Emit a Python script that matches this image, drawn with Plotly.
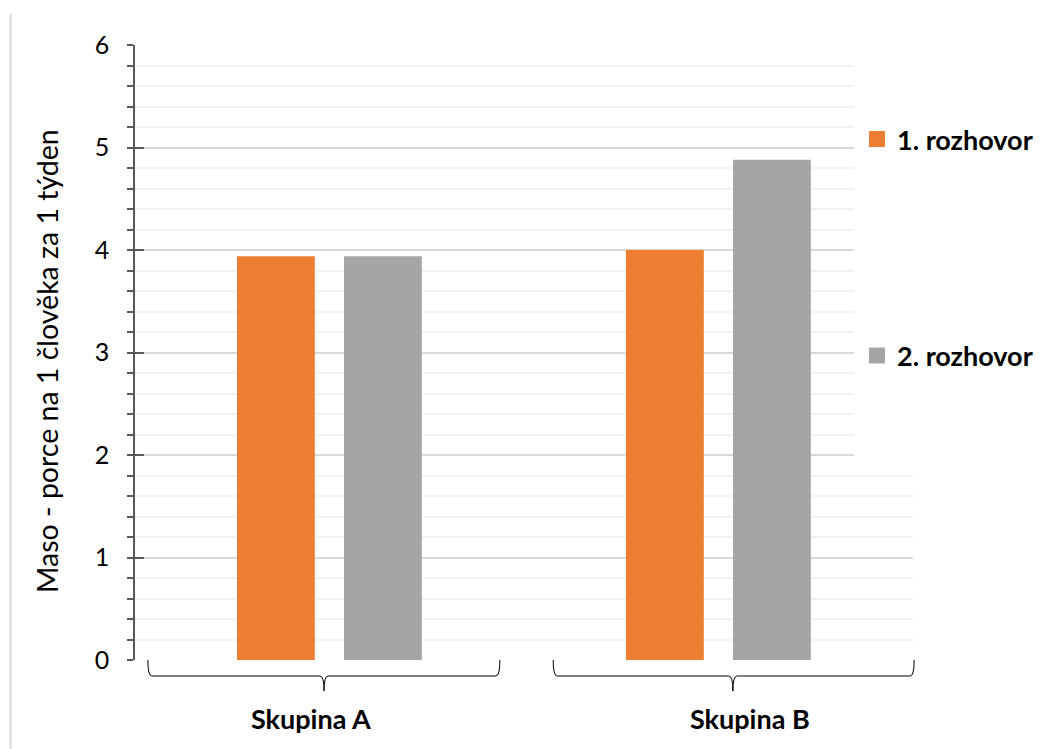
import plotly.graph_objects as go

# Data
groups = ["Skupina A", "Skupina B"]
series_names = ["1. rozhovor", "2. rozhovor"]
interview1 = [3.94, 4.00]
interview2 = [3.94, 4.88]
y_ticks = [0, 1, 2, 3, 4, 5, 6]

ORANGE = "#ED7D31"
GRAY = "#A5A5A5"
FONT = "Lato"
TEXT = "#000000"

W, H = 1043, 749
ML, MR, MT, MB = 135, 130, 45, 89
PW = W - ML - MR
PH = H - MT - MB

fig = go.Figure()

bar_w = 0.2
offsets = [-0.2378, 0.0373]
for vals, color, off in zip([interview1, interview2], [ORANGE, GRAY], offsets):
    fig.add_trace(go.Bar(
        x=groups, y=vals, width=bar_w, offset=off,
        marker=dict(color=color, line=dict(width=0)),
        showlegend=False, hoverinfo="x+y",
    ))

# legend entries (square swatches), each in its own legend box
for i, (name, color) in enumerate(zip(series_names, [ORANGE, GRAY])):
    fig.add_trace(go.Scatter(
        x=[None], y=[None], mode="markers", name=name,
        marker=dict(symbol="square", size=16, color=color),
        yaxis="y2", legend="legend" if i == 0 else "legend2",
    ))

def px_to_paper_x(px):
    return (px - ML) / PW

def px_to_paper_y(py):
    return (H - MB - py) / PH

x_min, x_max = -0.5, 1.5

def cat_to_paper(v):
    return (v - x_min) / (x_max - x_min)

def px_to_cat(px):
    return x_min + (px - ML) / PW * (x_max - x_min)

# category brackets under the axis (start, end, notch) in category units
brackets = [(-0.467, 0.438, -0.014), (-0.425, 0.503, 0.037)]
y0 = 0.0
y1 = px_to_paper_y(H - MB + 16)
y2 = px_to_paper_y(H - MB + 31)
d = 4 / PW
shapes = []
for i, (a, b, c) in enumerate(brackets):
    xl, xr, xc = cat_to_paper(i + a), cat_to_paper(i + b), cat_to_paper(i + c)
    path = (f"M{xl},{y0} Q{xl},{y1} {xl + d},{y1} L{xc - d},{y1} "
            f"Q{xc},{y1} {xc},{y2} Q{xc},{y1} {xc + d},{y1} "
            f"L{xr - d},{y1} Q{xr},{y1} {xr},{y0}")
    shapes.append(dict(type="path", xref="paper", yref="paper", path=path,
                       line=dict(color="#000000", width=1)))

# gridlines stop short beside the legend in the upper part
shapes.append(dict(type="rect", xref="x", yref="y", layer="between",
                   x0=px_to_cat(854), x1=px_to_cat(930), y0=1.9, y1=6.1,
                   fillcolor="white", line=dict(width=0)))

# chart-area border on the left
shapes.append(dict(type="line", xref="paper", yref="paper",
                   x0=px_to_paper_x(10.5), x1=px_to_paper_x(10.5),
                   y0=px_to_paper_y(14), y1=px_to_paper_y(H + 5),
                   line=dict(color="#D9D9D9", width=2)))

annotations = []
label_shift = [-18.5, 31.5]
for g, sh in zip(groups, label_shift):
    annotations.append(dict(
        x=g, xref="x", y=px_to_paper_y(718), yref="paper",
        text=f"<b>{g}</b>", showarrow=False, xshift=sh,
        font=dict(family=FONT, size=27, color=TEXT),
        xanchor="center", yanchor="middle",
    ))

# y-axis title, centred a little below the middle of the plot area
annotations.append(dict(
    x=px_to_paper_x(47), xref="paper", y=px_to_paper_y(361), yref="paper",
    text="Maso - porce na 1 člověka za 1 týden", showarrow=False, textangle=-90,
    font=dict(family=FONT, size=28.5, color=TEXT),
    xanchor="center", yanchor="middle",
))

legend_font = dict(family=FONT, size=27, color=TEXT, weight="bold")

fig.update_layout(
    width=W, height=H,
    margin=dict(l=ML, r=MR, t=MT, b=MB, autoexpand=False),
    paper_bgcolor="white", plot_bgcolor="white",
    barmode="overlay",
    font=dict(family=FONT, color=TEXT),
    xaxis=dict(range=[x_min, x_max], showticklabels=False, ticks="",
               showgrid=False, zeroline=False, showline=False),
    yaxis=dict(
        range=[0, 6], tickvals=y_ticks, ticks="outside", ticklen=6,
        tickcolor="#595959", tickwidth=1.5,
        showline=True, linecolor="#595959", linewidth=1.5,
        showgrid=True, gridcolor="#D9D9D9", gridwidth=1.5,
        zeroline=False,
        minor=dict(dtick=0.2, ticks="outside", ticklen=6, tickcolor="#595959",
                   tickwidth=1.5, showgrid=True, gridcolor="#F2F2F2", gridwidth=1.5),
        tickfont=dict(family=FONT, size=25, color=TEXT),
        ticklabelstandoff=13,
    ),
    yaxis2=dict(
        range=[0, 6], overlaying="y", side="left", tickvals=y_ticks,
        ticks="inside", ticklen=9, tickcolor="#595959", tickwidth=1.5,
        showticklabels=False, showgrid=False, zeroline=False, showline=False,
    ),
    legend=dict(x=px_to_paper_x(857), y=px_to_paper_y(139.5), xanchor="left",
                yanchor="middle", font=legend_font, bgcolor="rgba(0,0,0,0)"),
    legend2=dict(x=px_to_paper_x(857), y=px_to_paper_y(356), xanchor="left",
                 yanchor="middle", font=legend_font, bgcolor="rgba(0,0,0,0)"),
    shapes=shapes,
    annotations=annotations,
)

fig.write_html("out.html")
